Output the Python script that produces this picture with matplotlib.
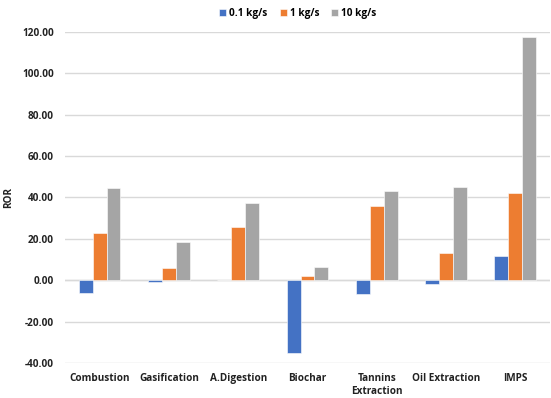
import matplotlib
matplotlib.use("Agg")
import matplotlib.pyplot as plt
import numpy as np

categories = ["Combustion", "Gasification", "A.Digestion", "Biochar",
              "Tannins\nExtraction", "Oil Extraction", "IMPS"]
series_names = ["0.1 kg/s", "1 kg/s", "10 kg/s"]
ror_01 = [-6.1, -1.0, 0.0, -35.3, -6.8, -2.0, 11.9]
ror_1 = [23.0, 6.0, 25.5, 2.0, 36.0, 13.2, 42.2]
ror_10 = [44.5, 18.5, 37.5, 6.4, 43.2, 45.2, 117.6]
yticks = [-40, -20, 0, 20, 40, 60, 80, 100, 120]

colors = ["#4472C4", "#ED7D31", "#A5A5A5"]
plt.rcParams["font.family"] = ["Open Sans", "DejaVu Sans"]

fig = plt.figure(figsize=(5.51, 3.98), dpi=100)
ax = fig.add_axes([0.118, 0.088, 0.88, 0.832])

x = np.arange(len(categories))
w = 0.2
for i, (vals, name) in enumerate(zip([ror_01, ror_1, ror_10], series_names)):
    ax.bar(x + (i - 1) * w, vals, width=w, color=colors[i], label=name,
           edgecolor="white", linewidth=0.4, zorder=3)

fs = 7.2
ax.set_xlim(-0.5, len(categories) - 0.5)
ax.set_ylim(-40, 120)
ax.set_yticks(yticks)
ax.set_yticklabels([f"{v:.2f}" for v in yticks], fontsize=fs, fontweight="bold", color="#222222")
ax.set_xticks(x)
ax.set_xticklabels(categories, fontsize=fs, fontweight="bold", color="#222222",
                   linespacing=1.25, va="top")
ax.tick_params(length=0)
ax.tick_params(axis="y", pad=8)
ax.tick_params(axis="x", pad=7)
ax.grid(axis="y", color="#D9D9D9", linewidth=1, zorder=0)
for s in ax.spines.values():
    s.set_visible(False)
ax.axhline(0, color="#D9D9D9", linewidth=1, zorder=1)
ax.set_ylabel("ROR", fontsize=fs, fontweight="bold", color="#222222")
ax.yaxis.set_label_coords(-0.105, 0.5)

ax.legend(loc="upper center", bbox_to_anchor=(0.48, 1.10), ncol=3, frameon=False,
          prop={"size": fs, "weight": "bold"}, handlelength=0.7, handleheight=0.7,
          handletextpad=0.3, columnspacing=1.2)

fig.savefig("out.png", dpi=100, facecolor="white")
